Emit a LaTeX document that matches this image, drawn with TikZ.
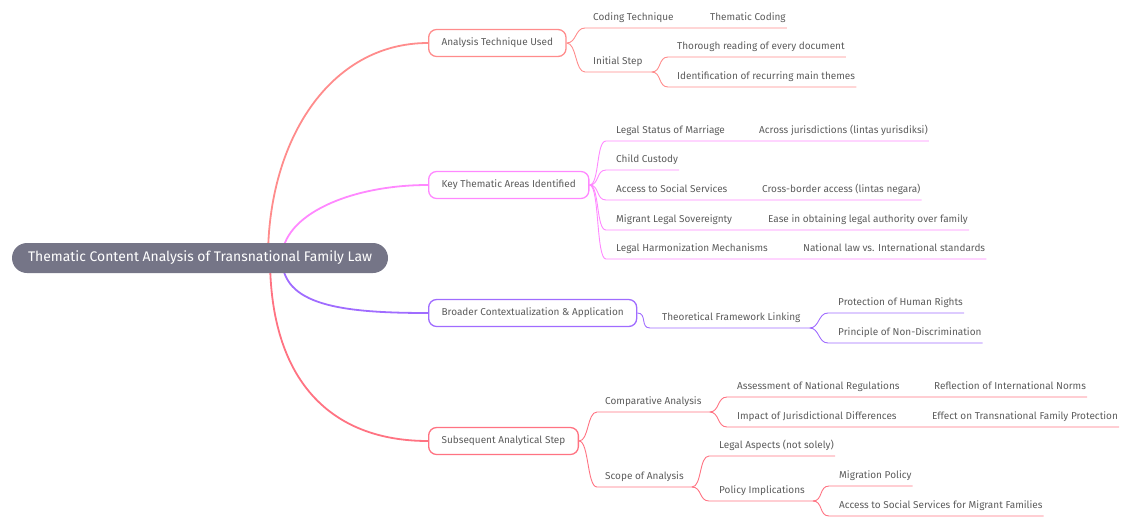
\documentclass[tikz,border=0pt]{standalone}
\usepackage{fontspec}
\setmainfont{Fira Sans}
\usetikzlibrary{backgrounds}
\definecolor{rootgray}{HTML}{757587}
\definecolor{txtgray}{HTML}{5C5C5C}
\definecolor{brA}{HTML}{FF8C8C}
\definecolor{brB}{HTML}{FF88FF}
\definecolor{brC}{HTML}{A06CFF}
\definecolor{brD}{HTML}{FF7382}
\tikzset{
  root/.style={rectangle, rounded corners=15pt, fill=rootgray, text=white, minimum width=376pt, minimum height=30pt, font=\fontsize{13.9}{16}\selectfont},
  topic/.style={rectangle, rounded corners=8pt, draw, line width=1.3pt, fill=white, anchor=west, minimum height=27pt, inner xsep=13pt, text=txtgray, font=\fontsize{10}{12}\selectfont},
  item/.style={anchor=south west, inner xsep=0pt, inner ysep=0pt, text height=8pt, text depth=7.5pt, text=txtgray, font=\fontsize{10}{12}\selectfont},
  trunk/.style={line width=1.8pt},
  twig/.style={line width=0.9pt}
}
\begin{document}
\begin{tikzpicture}[x=1pt,y=-1pt]
    %%%%% START %%%%%
    \useasboundingbox (0,0) rectangle (1121,517);

    \node[root] (root) at (200,258) {Thematic Content Analysis of Transnational Family Law};

    % first branch
    \node[topic, draw=brA] (ana) at (428,43) {Analysis Technique Used};
    \node[item] (cod) at (593,28) {Coding Technique};
    \node[item] (thc) at (710,28) {Thematic Coding};
    \node[item] (ini) at (593,72) {Initial Step};
    \node[item] (tho) at (677,57) {Thorough reading of every document};
    \node[item] (ide) at (677,87) {Identification of recurring main themes};

    % second branch
    \node[topic, draw=brB] (key) at (428,185) {Key Thematic Areas Identified};
    \node[item] (lsm) at (616,141) {Legal Status of Marriage};
    \node[item] (acj) at (759,141) {Across jurisdictions (lintas yurisdiksi)};
    \node[item] (cus) at (616,170) {Child Custody};
    \node[item] (acc) at (616,200) {Access to Social Services};
    \node[item] (cba) at (762,200) {Cross-border access (lintas negara)};
    \node[item] (mig) at (616,230) {Migrant Legal Sovereignty};
    \node[item] (eas) at (768,230) {Ease in obtaining legal authority over family};
    \node[item] (har) at (616,259) {Legal Harmonization Mechanisms};
    \node[item] (nat) at (803,259) {National law vs. International standards};

    % third branch
    \node[topic, draw=brC] (brd) at (428,313) {Broader Contextualization \& Application};
    \node[item] (tfl) at (662,328) {Theoretical Framework Linking};
    \node[item] (phr) at (838,313) {Protection of Human Rights};
    \node[item] (pnd) at (838,343) {Principle of Non-Discrimination};

    % fourth branch
    \node[topic, draw=brD] (sub) at (428,441) {Subsequent Analytical Step};
    \node[item] (cmp) at (605,412) {Comparative Analysis};
    \node[item] (anr) at (737,397) {Assessment of National Regulations};
    \node[item] (rin) at (934,397) {Reflection of International Norms};
    \node[item] (ijd) at (737,427) {Impact of Jurisdictional Differences};
    \node[item] (etf) at (932,427) {Effect on Transnational Family Protection};
    \node[item] (sco) at (605,487) {Scope of Analysis};
    \node[item] (las) at (719,456) {Legal Aspects (not solely)};
    \node[item] (pol) at (719,501) {Policy Implications};
    \node[item] (mpo) at (839,486) {Migration Policy};
    \node[item] (asf) at (839,516) {Access to Social Services for Migrant Families};

    \begin{scope}[on background layer]
    % trunks
    \draw[trunk, brA] ([xshift=68pt]root.center) .. controls +(0,-118) and +(-98,0) .. (ana.west);
    \draw[trunk, brB] ([xshift=82pt]root.center) .. controls +(0,-43) and +(-78,0) .. (key.west);
    \draw[trunk, brC] ([xshift=82pt]root.center) .. controls +(0,47) and +(-88,0) .. (brd.west);
    \draw[trunk, brD] ([xshift=70pt]root.center) .. controls +(0,122) and +(-98,0) .. (sub.west);

    % first branch
    \draw[twig, brA] (ana.east) .. controls +(10,0) and +(-10,0) .. ([xshift=-8pt]cod.south west) -- ([xshift=1pt]thc.south east);
    \draw[twig, brA] (ana.east) .. controls +(10,0) and +(-10,0) .. ([xshift=-8pt]ini.south west) -- ([xshift=9pt]ini.south east);
    \draw[twig, brA] ([xshift=9pt]ini.south east) .. controls +(10,0) and +(-10,0) .. ([xshift=-9pt]tho.south west) -- ([xshift=1pt]tho.south east);
    \draw[twig, brA] ([xshift=9pt]ini.south east) .. controls +(10,0) and +(-10,0) .. ([xshift=-9pt]ide.south west) -- ([xshift=1pt]ide.south east);

    % second branch
    \draw[twig, brB] (key.east) .. controls +(10,0) and +(-10,0) .. ([xshift=-10pt]lsm.south west) -- ([xshift=1pt]acj.south east);
    \draw[twig, brB] (key.east) .. controls +(10,0) and +(-10,0) .. ([xshift=-10pt]cus.south west) -- ([xshift=1pt]cus.south east);
    \draw[twig, brB] (key.east) .. controls +(10,0) and +(-10,0) .. ([xshift=-10pt]acc.south west) -- ([xshift=1pt]cba.south east);
    \draw[twig, brB] (key.east) .. controls +(10,0) and +(-10,0) .. ([xshift=-10pt]mig.south west) -- ([xshift=1pt]eas.south east);
    \draw[twig, brB] (key.east) .. controls +(10,0) and +(-10,0) .. ([xshift=-10pt]har.south west) -- ([xshift=1pt]nat.south east);

    % third branch
    \draw[twig, brC] (brd.east) .. controls +(10,0) and +(-10,0) .. ([xshift=-12pt]tfl.south west) -- ([xshift=9pt]tfl.south east);
    \draw[twig, brC] ([xshift=9pt]tfl.south east) .. controls +(10,0) and +(-10,0) .. ([xshift=-10pt]phr.south west) -- ([xshift=1pt]phr.south east);
    \draw[twig, brC] ([xshift=9pt]tfl.south east) .. controls +(10,0) and +(-10,0) .. ([xshift=-10pt]pnd.south west) -- ([xshift=1pt]pnd.south east);

    % fourth branch
    \draw[twig, brD] (sub.east) .. controls +(10,0) and +(-10,0) .. ([xshift=-8pt]cmp.south west) -- ([xshift=8pt]cmp.south east);
    \draw[twig, brD] ([xshift=8pt]cmp.south east) .. controls +(10,0) and +(-10,0) .. ([xshift=-10pt]anr.south west) -- ([xshift=1pt]rin.south east);
    \draw[twig, brD] ([xshift=8pt]cmp.south east) .. controls +(10,0) and +(-10,0) .. ([xshift=-10pt]ijd.south west) -- ([xshift=1pt]etf.south east);
    \draw[twig, brD] (sub.east) .. controls +(10,0) and +(-10,0) .. ([xshift=-8pt]sco.south west) -- ([xshift=8pt]sco.south east);
    \draw[twig, brD] ([xshift=8pt]sco.south east) .. controls +(10,0) and +(-10,0) .. ([xshift=-10pt]las.south west) -- ([xshift=1pt]las.south east);
    \draw[twig, brD] ([xshift=8pt]sco.south east) .. controls +(10,0) and +(-10,0) .. ([xshift=-10pt]pol.south west) -- ([xshift=8pt]pol.south east);
    \draw[twig, brD] ([xshift=8pt]pol.south east) .. controls +(10,0) and +(-10,0) .. ([xshift=-10pt]mpo.south west) -- ([xshift=1pt]mpo.south east);
    \draw[twig, brD] ([xshift=8pt]pol.south east) .. controls +(10,0) and +(-10,0) .. ([xshift=-10pt]asf.south west) -- ([xshift=1pt]asf.south east);
    \end{scope}
    %%%%% END %%%%%
\end{tikzpicture}
\end{document}
